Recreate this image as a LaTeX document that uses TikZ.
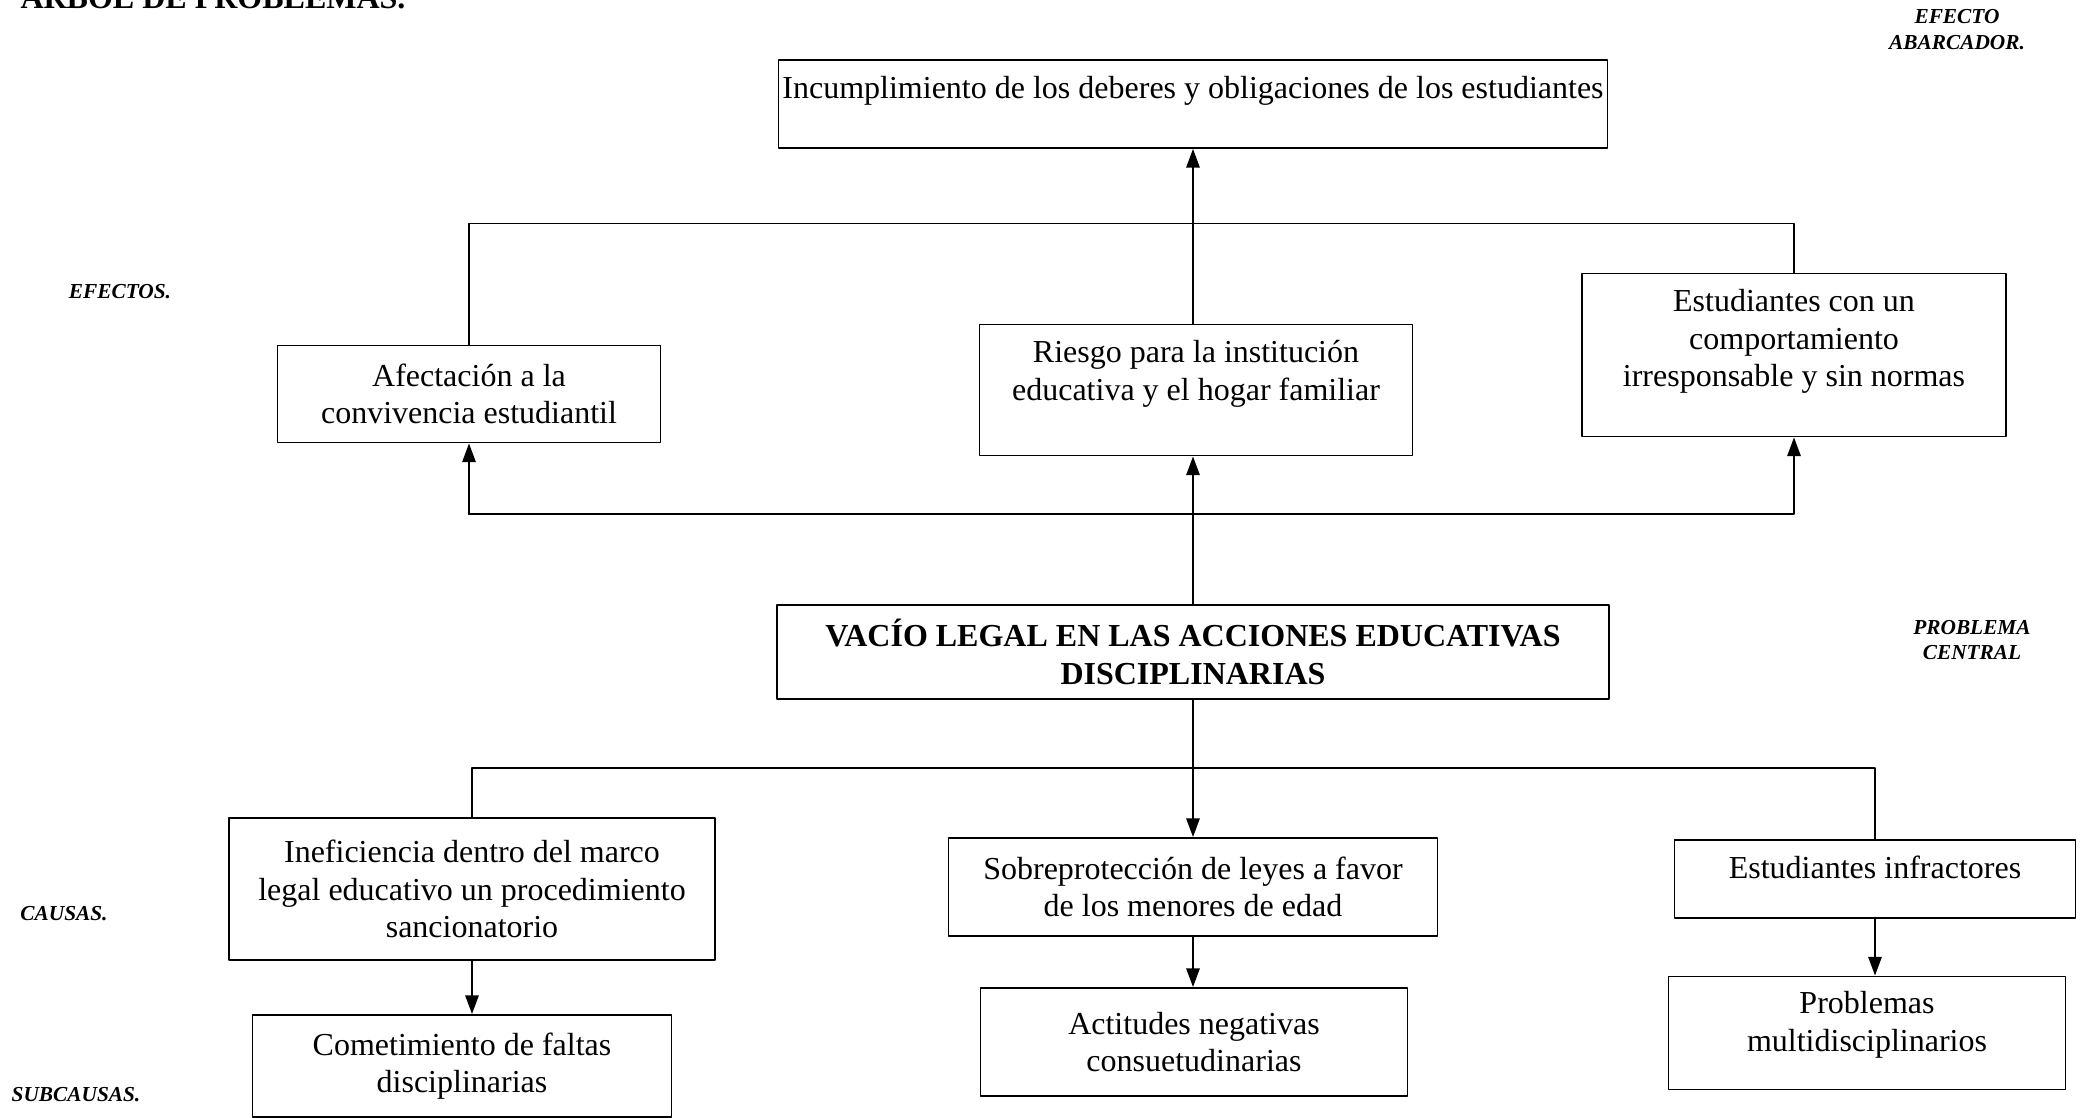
\documentclass[tikz,border=0pt]{standalone}
\usepackage{fontspec}
\setmainfont{Liberation Serif}
\usetikzlibrary{arrows.meta}

% text block moved up inside its box
\newcommand{\liftbox}[2]{\raisebox{#1}[\height][\depth]{\begin{tabular}{@{}c@{}}#2\end{tabular}}}

\begin{document}
\begin{tikzpicture}[x=0.375pt, y=0.375pt, line cap=round, line join=round,
    >={Triangle[length=7pt,width=5pt]},
    box/.style 2 args={draw, line width=0.7pt, minimum width=#1*0.375pt,
      minimum height=#2*0.375pt, inner sep=0pt, align=center,
      font=\fontsize{12}{14}\selectfont},
    tag/.style={font=\fontsize{8}{9.7}\selectfont\bfseries\itshape, align=center},
    link/.style={line width=0.7pt},
    arr/.style={link, ->}]

  \useasboundingbox (0,0) rectangle (2083,1118);

  % ===== Title (cut by the top edge) =====
  \node[anchor=base west, inner sep=0pt, font=\fontsize{12}{14}\selectfont\bfseries]
    (titulo) at (20,1109) {ÁRBOL DE PROBLEMAS.};

  % ===== Effects =====
  \node[box={829}{88}] (incum) at (1193,1014)
    {\liftbox{5pt}{Incumplimiento de los deberes y obligaciones de los estudiantes}};
  \node[box={383}{97}] (afect) at (469,724) {Afectación a la\\convivencia estudiantil};
  \node[box={433}{131}] (riesgo) at (1196,728)
    {\liftbox{6pt}{Riesgo para la institución\\educativa y el hogar familiar}};
  \node[box={424}{163}] (estud) at (1794,763)
    {\liftbox{5pt}{Estudiantes con un\\comportamiento\\irresponsable y sin normas}};

  % ===== Central problem =====
  \node[box={832}{94}, font=\fontsize{12}{14}\selectfont\bfseries] (vacio) at (1193,466)
    {VACÍO LEGAL EN LAS ACCIONES EDUCATIVAS\\DISCIPLINARIAS};

  % ===== Causes =====
  \node[box={486}{142}] (inef) at (472,229)
    {Ineficiencia dentro del marco\\legal educativo un procedimiento\\sancionatorio};
  \node[box={489}{98}] (sobre) at (1193,231) {Sobreprotección de leyes a favor\\de los menores de edad};
  \node[box={401}{78}] (infr) at (1875,239) {\liftbox{3pt}{Estudiantes infractores}};

  % ===== Sub-causes =====
  \node[box={419}{102}] (comet) at (462,52) {Cometimiento de faltas\\disciplinarias};
  \node[box={427}{108}] (actit) at (1194,76) {Actitudes negativas\\consuetudinarias};
  \node[box={397}{113}] (probl) at (1867,85) {\liftbox{3pt}{Problemas\\multidisciplinarios}};

  % ===== Side tags =====
  \node[tag] (tabarc) at (1957,1088) {EFECTO\\ABARCADOR.};
  \node[tag] (tefec) at (120,826) {EFECTOS.};
  \node[tag] (tprob) at (1972,478) {PROBLEMA\\CENTRAL};
  \node[tag] (tcaus) at (64,204) {CAUSAS.};
  \node[tag] (tsub) at (76,23) {SUBCAUSAS.};

  % ===== Connectors, upper half =====
  \draw[arr] (vacio.north |- riesgo.north) -- (vacio.north |- incum.south);
  \draw[link] (afect.north) -- ++(0,121) -| (estud.north);
  \path (vacio.north) ++(0,90) coordinate (fbase);
  \draw[arr] (vacio.north) -- (vacio.north |- riesgo.south);
  \draw[arr] (fbase -| afect.south) -- (afect.south);
  \draw[arr] (fbase -| afect.south) -| (estud.south);

  % ===== Connectors, lower half =====
  \draw[arr] (vacio.south) -- (vacio.south |- sobre.north);
  \draw[link] (inef.north) -- ++(0,49) -| (infr.north);
  \draw[arr] (inef.south) -- (inef.south |- comet.north);
  \draw[arr] (sobre.south) -- (sobre.south |- actit.north);
  \draw[arr] (infr.south) -- (infr.south |- probl.north);

\end{tikzpicture}
\end{document}
